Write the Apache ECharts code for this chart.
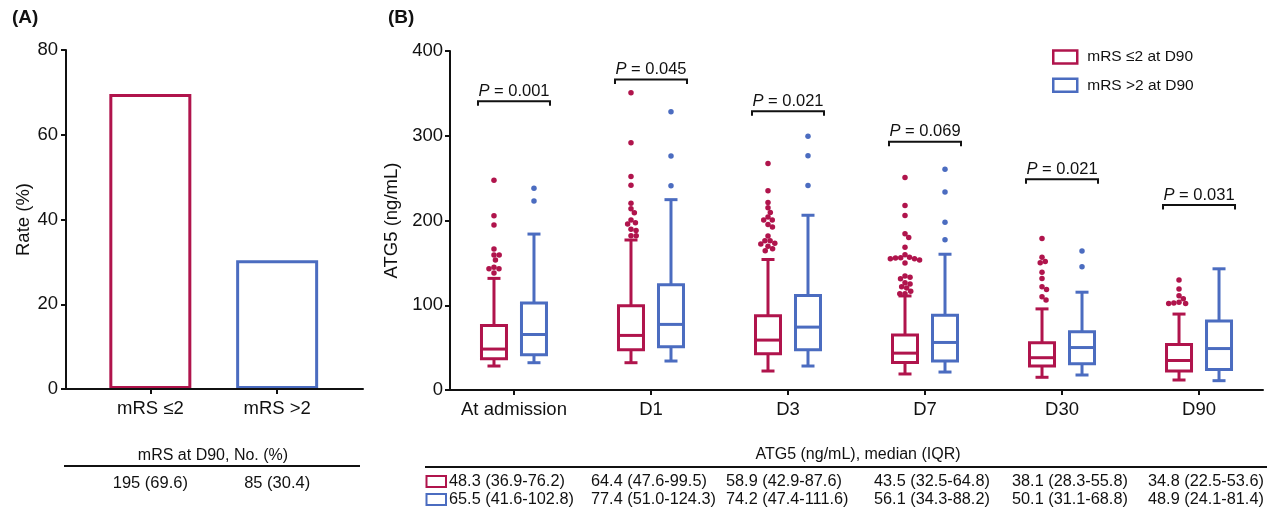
<!DOCTYPE html>
<html><head><meta charset="utf-8">
<script src="https://cdn.jsdelivr.net/npm/echarts@6/dist/echarts.min.js"></script>
<style>html,body{margin:0;padding:0;background:#fff}#c{width:1271px;height:511px}</style>
</head><body><div id="c"></div>
<script>
// ---------- Panel A data ----------
const groupsA = ['mRS ≤2', 'mRS >2'];
const ratesA = [69.6, 30.4];
const countsA = ['195 (69.6)', '85 (30.4)'];
const tableTitleA = 'mRS at D90, No. (%)';

// ---------- Panel B data ----------
const timepoints = ['At admission', 'D1', 'D3', 'D7', 'D30', 'D90'];
const seriesNames = ['mRS ≤2 at D90', 'mRS >2 at D90'];
// [lower whisker, Q1, median, Q3, upper whisker]
const boxGood = [
  [28.3, 36.9, 48.3, 76.2, 131.7],
  [32.2, 47.6, 64.4, 99.5, 177.0],
  [22.4, 42.9, 58.9, 87.6, 154.0],
  [18.9, 32.5, 43.5, 64.8, 111.0],
  [15.0, 28.3, 38.1, 55.8, 95.7],
  [11.8, 22.5, 34.8, 53.6, 89.6]
];
const boxPoor = [
  [32.2, 41.6, 65.5, 102.8, 184.0],
  [34.2, 51.0, 77.4, 124.3, 224.6],
  [28.3, 47.4, 74.2, 111.6, 206.2],
  [21.2, 34.3, 56.1, 88.2, 160.2],
  [17.7, 31.1, 50.1, 68.8, 115.4],
  [11.0, 24.1, 48.9, 81.4, 143.0]
];
const outGood = [
  [247.6, 205.5, 194.6, 166.3, 159.2, 159.2, 153.3, 144.7, 143.0, 143.0, 138.0],
  [350.6, 291.6, 252.0, 241.7, 220.5, 213.8, 209.1, 200.5, 197.3, 195.8, 189.8, 188.3, 182.0, 182.0],
  [267.3, 235.0, 221.3, 215.0, 209.5, 204.0, 200.5, 200.5, 195.4, 192.2, 181.6, 176.0, 176.0, 173.3, 172.2, 169.5, 166.6, 164.3],
  [250.8, 217.8, 206.0, 184.3, 180.0, 168.3, 159.6, 156.5, 155.7, 154.9, 153.3, 149.8, 154.9, 156.1, 134.4, 132.9, 131.3, 126.5, 125.0, 121.8, 120.3, 116.4, 113.6, 113.6],
  [178.9, 156.5, 151.7, 150.1, 138.8, 131.7, 121.8, 118.7, 110.0, 106.1],
  [129.7, 119.1, 111.2, 107.7, 103.5, 102.8, 102.2, 102.0]
];
const outPoor = [
  [238.0, 223.0],
  [328.2, 276.0, 241.0],
  [299.5, 276.3, 241.4],
  [260.6, 233.5, 198.0, 177.2],
  [163.9, 145.4],
  []
];
const pValues = ['0.001', '0.045', '0.021', '0.069', '0.021', '0.031'];
const pHeights = [340.8, 366.4, 329.0, 292.8, 248.8, 218.2];
const tableTitleB = 'ATG5 (ng/mL), median (IQR)';

// ---------- styling ----------
const RED = '#B0144C', BLUE = '#4B6CC0', INK = '#111';
const FONT = '"Liberation Sans", Arial, Helvetica, sans-serif';
const colors = [RED, BLUE];
const BOX_OFF = 20;

const chart = echarts.init(document.getElementById('c'), null, {renderer: 'canvas'});

function fmtIQR(b) { return b[2].toFixed(1) + ' (' + b[1].toFixed(1) + '-' + b[3].toFixed(1) + ')'; }

function boxRender(offset, color) {
  return function (params, api) {
    const xi = api.value(0);
    const x = api.coord([xi, 0])[0] + offset;
    const y = k => api.coord([xi, api.value(k)])[1];
    const yl = y(1), yq1 = y(2), ym = y(3), yq3 = y(4), yh = y(5);
    const hw = 12.5, cw = 6.5;
    const st = {stroke: color, lineWidth: 3, fill: null};
    return {type: 'group', children: [
      {type: 'line', shape: {x1: x, y1: yq3, x2: x, y2: yh}, style: st},
      {type: 'line', shape: {x1: x, y1: yq1, x2: x, y2: yl}, style: st},
      {type: 'line', shape: {x1: x - cw, y1: yh, x2: x + cw, y2: yh}, style: st},
      {type: 'line', shape: {x1: x - cw, y1: yl, x2: x + cw, y2: yl}, style: st},
      {type: 'rect', shape: {x: x - hw, y: yq3, width: 2 * hw, height: yq1 - yq3}, style: {stroke: color, lineWidth: 3, fill: '#fff'}},
      {type: 'line', shape: {x1: x - hw, y1: ym, x2: x + hw, y2: ym}, style: st}
    ]};
  };
}

function bracketRender(params, api) {
  const xi = api.value(0);
  const p = api.coord([xi, api.value(1)]);
  const cx = p[0], cy = p[1], half = 36;
  return {type: 'group', children: [
    {type: 'polyline', shape: {points: [[cx - half, cy + 4.5], [cx - half, cy], [cx + half, cy], [cx + half, cy + 4.5]]},
      style: {stroke: INK, lineWidth: 2, fill: null}},
    {type: 'text', x: cx, y: cy - 1.5, style: {
      text: '{i|P} = ' + pValues[params.dataIndex],
      rich: {i: {fontStyle: 'italic', fontSize: 16.5, fontFamily: FONT, fill: INK}},
      fontSize: 16.5, fontFamily: FONT, fill: INK, align: 'center', verticalAlign: 'bottom'}}
  ]};
}

const axisText = {color: INK, fontSize: 18.5, fontFamily: FONT};
const axisLine = {show: true, onZero: false, lineStyle: {color: INK, width: 2}};
const axisTick = {show: true, length: 5, lineStyle: {color: INK, width: 2}};

const option = {
  animation: false,
  backgroundColor: '#fff',
  textStyle: {fontFamily: FONT},
  grid: [
    {left: 66, top: 50, width: 297, height: 339, outerBoundsMode: 'none', containLabel: false},
    {left: 450, top: 51, width: 813, height: 339, outerBoundsMode: 'none', containLabel: false}
  ],
  xAxis: [
    {type: 'value', gridIndex: 0, min: 0.335, max: 2.677, z: 5,
      axisLine: axisLine, splitLine: {show: false},
      axisTick: Object.assign({}, axisTick, {customValues: [1, 2]}),
      axisLabel: Object.assign({}, axisText, {customValues: [1, 2], margin: 10,
        formatter: v => groupsA[Math.round(v) - 1]})},
    {type: 'value', gridIndex: 1, min: -0.467, max: 5.467, z: 5,
      axisLine: axisLine, splitLine: {show: false},
      axisTick: Object.assign({}, axisTick, {customValues: timepoints.map((t, i) => i)}),
      axisLabel: Object.assign({}, axisText, {customValues: timepoints.map((t, i) => i), margin: 10,
        formatter: v => timepoints[Math.round(v)]})}
  ],
  yAxis: [
    {type: 'value', gridIndex: 0, min: 0, max: 80, interval: 20,
      name: 'Rate (%)', nameLocation: 'middle', nameGap: 33,
      nameTextStyle: {color: INK, fontSize: 18.5, fontFamily: FONT},
      axisLine: axisLine, axisTick: axisTick, splitLine: {show: false},
      axisLabel: Object.assign({}, axisText, {margin: 8})},
    {type: 'value', gridIndex: 1, min: 0, max: 400, interval: 100,
      name: 'ATG5 (ng/mL)', nameLocation: 'middle', nameGap: 37,
      nameTextStyle: {color: INK, fontSize: 18.5, fontFamily: FONT},
      axisLine: axisLine, axisTick: axisTick, splitLine: {show: false},
      axisLabel: Object.assign({}, axisText, {margin: 7})}
  ],
  legend: {
    orient: 'vertical', left: 1052, top: 49, itemWidth: 24, itemHeight: 13, itemGap: 12.3,
    padding: 0, icon: 'rect', selectedMode: false,
    textStyle: {color: INK, fontSize: 15.5, fontFamily: FONT, padding: [0, 0, 0, 5]},
    data: seriesNames.map((n, i) => ({name: n, icon: 'rect',
      itemStyle: {color: '#fff', borderColor: colors[i], borderWidth: 2.5}}))
  },
  series: [
    {type: 'bar', xAxisIndex: 0, yAxisIndex: 0, barWidth: 82,
      data: ratesA.map((r, i) => ({value: [i + 1, r], itemStyle: {color: '#fff', borderColor: colors[i], borderWidth: 3}}))},
    {type: 'custom', id: 'boxGood', name: seriesNames[0], xAxisIndex: 1, yAxisIndex: 1,
      renderItem: boxRender(-BOX_OFF, RED), encode: {x: 0, y: [1, 2, 3, 4, 5]},
      data: boxGood.map((b, i) => [i].concat(b))},
    {type: 'custom', id: 'boxPoor', name: seriesNames[1], xAxisIndex: 1, yAxisIndex: 1,
      renderItem: boxRender(BOX_OFF, BLUE), encode: {x: 0, y: [1, 2, 3, 4, 5]},
      data: boxPoor.map((b, i) => [i].concat(b))},
    {type: 'scatter', id: 'outGood', name: seriesNames[0], xAxisIndex: 1, yAxisIndex: 1, z: 4,
      symbolSize: 5.5, itemStyle: {color: RED, opacity: 1}, data: []},
    {type: 'scatter', id: 'outPoor', name: seriesNames[1], xAxisIndex: 1, yAxisIndex: 1, z: 4,
      symbolSize: 5.5, itemStyle: {color: BLUE, opacity: 1}, data: []},
    {type: 'custom', id: 'brackets', xAxisIndex: 1, yAxisIndex: 1, renderItem: bracketRender,
      encode: {x: 0, y: 1}, data: pHeights.map((h, i) => [i, h])}
  ]
};
chart.setOption(option);

// beeswarm layout for outliers (pixel space)
function swarm(ys, d) {
  const idx = ys.map((_, i) => i).sort((a, b) => ys[a] - ys[b]);
  const placed = [], out = new Array(ys.length).fill(0);
  idx.forEach(i => {
    const y = ys[i];
    const near = placed.filter(p => Math.abs(p.y - y) < d);
    const cands = [0];
    near.forEach(p => { const w = Math.sqrt(d * d - (p.y - y) * (p.y - y)); cands.push(p.x + w + 0.01, p.x - w - 0.01); });
    cands.sort((a, b) => Math.abs(a) - Math.abs(b));
    let x = 0;
    for (const c of cands) { if (near.every(p => Math.hypot(p.x - c, p.y - y) >= d - 0.001)) { x = c; break; } }
    placed.push({x, y}); out[i] = x;
  });
  return out;
}
function outlierData(groups, base) {
  const data = [];
  groups.forEach((vals, i) => {
    const ys = vals.map(v => chart.convertToPixel({xAxisIndex: 1, yAxisIndex: 1}, [i, v])[1]);
    const dx = swarm(ys, 5.2);
    vals.forEach((v, k) => data.push({value: [i, v], symbolOffset: [base + dx[k], 0]}));
  });
  return data;
}

// tables (text built from the data arrays)
const g = [];
const xa = ratesA.map((r, i) => chart.convertToPixel({xAxisIndex: 0, yAxisIndex: 0}, [i + 1, 0])[0]);
g.push({type: 'text', left: 12, top: 8, style: {text: '(A)', font: 'bold 19px ' + FONT, fill: INK}});
g.push({type: 'text', left: 388, top: 8, style: {text: '(B)', font: 'bold 19px ' + FONT, fill: INK}});
g.push({type: 'text', x: 213, y: 456, style: {text: tableTitleA, font: '16px ' + FONT, fill: INK, align: 'center', verticalAlign: 'middle'}});
g.push({type: 'line', shape: {x1: 64, y1: 466, x2: 360, y2: 466}, style: {stroke: INK, lineWidth: 2}});
countsA.forEach((t, i) => g.push({type: 'text', x: xa[i], y: 483, style: {text: t, font: '16.5px ' + FONT, fill: INK, align: 'center', verticalAlign: 'middle'}}));
g.push({type: 'text', x: 858, y: 455, style: {text: tableTitleB, font: '16px ' + FONT, fill: INK, align: 'center', verticalAlign: 'middle'}});
g.push({type: 'line', shape: {x1: 425, y1: 467, x2: 1267, y2: 467}, style: {stroke: INK, lineWidth: 2}});
const colStarts = [449, 591, 726, 874, 1012, 1148];
const rowY = [481.5, 499.5];
[boxGood, boxPoor].forEach((boxes, r) => {
  g.push({type: 'rect', shape: {x: 426.5, y: rowY[r] - 5.5, width: 19.5, height: 11}, style: {fill: '#fff', stroke: colors[r], lineWidth: 2}});
  boxes.forEach((b, i) => g.push({type: 'text', x: colStarts[i], y: rowY[r], style: {text: fmtIQR(b), font: '16.3px ' + FONT, fill: INK, align: 'left', verticalAlign: 'middle'}}));
});

chart.setOption({
  series: [
    {id: 'outGood', data: outlierData(outGood, -BOX_OFF)},
    {id: 'outPoor', data: outlierData(outPoor, BOX_OFF)}
  ],
  graphic: g
});
</script>
</body></html>
